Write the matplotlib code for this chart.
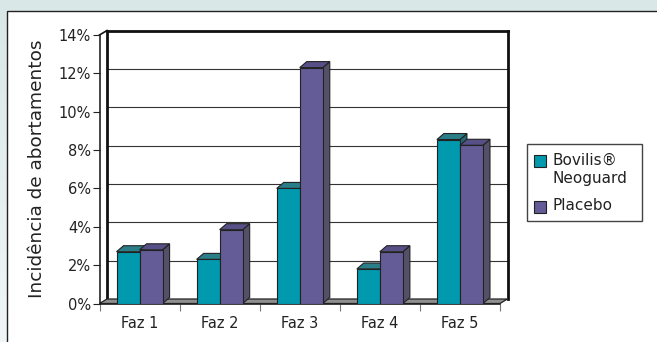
import numpy as np
import matplotlib
matplotlib.use("Agg")
import matplotlib.pyplot as plt
from matplotlib.patches import Polygon, Rectangle
from matplotlib.lines import Line2D
from matplotlib.transforms import IdentityTransform
from matplotlib.colors import LinearSegmentedColormap

categories = ["Faz 1", "Faz 2", "Faz 3", "Faz 4", "Faz 5"]
bovilis = [2.7, 2.3, 6.0, 1.8, 8.55]
placebo = [2.8, 3.85, 12.3, 2.7, 8.25]
series_names = ["Bovilis®\nNeoguard", "Placebo"]
yticks = [0, 2, 4, 6, 8, 10, 12, 14]
ytick_labels = ["0%", "2%", "4%", "6%", "8%", "10%", "12%", "14%"]

plt.rcParams['font.family'] = ['DejaVu Sans']
W, H = 657, 342
fig = plt.figure(figsize=(W / 100, H / 100), dpi=100)

# background with gradient
bg = fig.add_axes([0, 0, 1, 1])
bg.set_axis_off()
grad = np.linspace(0, 1, 256).reshape(-1, 1)
cm = LinearSegmentedColormap.from_list("bg", ["#d9e7e7", "#f0f6f6"])
bg.imshow(grad, aspect='auto', cmap=cm, extent=[0, 1, 0, 1], origin='upper')
bg.set_xlim(0, 1); bg.set_ylim(0, 1)
bg.add_patch(Rectangle((7 / W, -0.1), 1.2, (H - 11) / H + 0.1, transform=fig.transFigure,
                       facecolor='white', edgecolor='#222222', lw=1.0))

# main axes (front plane)
x0, x1 = 99.5, 500.0
y0, y1 = 303.5, 35.0
ax = fig.add_axes([x0 / W, (H - y0) / H, (x1 - x0) / W, (y0 - y1) / H])
ax.set_xlim(-0.5, len(categories) - 0.5)
ax.set_ylim(0, 14)
ax.patch.set_visible(False)
for s in ['top', 'right', 'bottom']:
    ax.spines[s].set_visible(False)
ax.spines['left'].set_color('#222222')
ax.spines['left'].set_linewidth(1.2)
ax.spines['left'].set_zorder(6)

ax.set_yticks(yticks)
ax.set_yticklabels(ytick_labels)
ax.tick_params(axis='y', length=5, width=0.8, color='#222222', labelsize=10.5,
               labelcolor='#222222', pad=1)
xs = np.arange(len(categories))
ax.set_xticks(xs)
ax.set_xticklabels(categories)
ax.set_xticks(np.arange(-0.5, len(categories)), minor=True)
ax.tick_params(axis='x', which='major', length=0, labelsize=10.5, labelcolor='#222222', pad=9)
ax.tick_params(axis='x', which='minor', length=5, width=0.8, color='#777777', pad=2)
ax.set_ylabel("Incidência de abortamentos", fontsize=13.3, color='#222222', labelpad=9)

fig.canvas.draw()
T = ax.transData
ID = IdentityTransform()
wall = np.array([7.5, 4.5])
depth = np.array([7.0, 6.0])
xa, xb = -0.5, len(categories) - 0.5


def P(x, y, off=(0, 0)):
    return T.transform((x, y)) + np.asarray(off)


def line(p, q, color, lw, z):
    ax.add_line(Line2D([p[0], q[0]], [p[1], q[1]], color=color, lw=lw, transform=ID,
                       clip_on=False, zorder=z, solid_capstyle='projecting'))


def poly(pts, fc, z, ec='#222222', lw=0.8):
    ax.add_patch(Polygon(np.array(pts), closed=True, facecolor=fc, edgecolor=ec, lw=lw,
                         transform=ID, clip_on=False, zorder=z, joinstyle='miter'))


# back wall gridlines
for v in yticks[1:-1]:
    line(P(xa, v, wall), P(xb, v, wall), '#333333', 0.8, 1)
line(P(xa, 14, wall), P(xb, 14, wall), '#111111', 2.0, 1.2)
line(P(xa, 0, wall), P(xa, 14, wall), '#111111', 2.0, 1.2)
line(P(xb, 0, wall), P(xb, 14, wall), '#111111', 2.0, 1.2)
line(P(xa, 14), P(xa, 14, wall), '#111111', 1.2, 1.2)

# floor
poly([P(xa, 0), P(xb, 0), P(xb, 0, wall), P(xa, 0, wall)], '#8f8f8f', 1.5, ec='#222222', lw=0.9)
line(P(xa, 0), P(xb, 0), '#222222', 1.2, 1.6)

bw = 0.2875
colors = {
    'teal': ('#0099ad', '#2b7d88', '#226a73'),
    'purple': ('#635c96', '#575087', '#545069'),
}


def draw_bars(lefts, vals, cols, z):
    front, top, side = cols
    ax.bar(lefts, vals, width=bw, align='edge', color=front, edgecolor='#222222',
           linewidth=0.8, zorder=z + 0.2)
    for l, v in zip(lefts, vals):
        r = l + bw
        poly([P(r, 0), P(r, 0, depth), P(r, v, depth), P(r, v)], side, z)
        poly([P(l, v), P(r, v), P(r, v, depth), P(l, v, depth)], top, z + 0.1)


draw_bars(xs - bw, bovilis, colors['teal'], 3)
draw_bars(xs, placebo, colors['purple'], 4)

# legend (manual, pixel layout; y from top)
def fx(px):
    return px / W


def fy(py):
    return 1 - py / H


fig.add_artist(Rectangle((fx(527), fy(221)), (642 - 527) / W, (221 - 144) / H,
                         transform=fig.transFigure, facecolor='white',
                         edgecolor='#444444', lw=1.0, zorder=10))
sq_tops = [155, 201]
for (name, top_px, col) in zip(series_names, sq_tops,
                               [colors['teal'][0], colors['purple'][0]]):
    fig.add_artist(Rectangle((fx(533.5), fy(top_px + 12)), 12 / W, 12 / H,
                             transform=fig.transFigure, facecolor=col,
                             edgecolor='#222222', lw=0.8, zorder=11))
    fig.text(fx(553), fy(top_px - 2.5), name, ha='left', va='top', fontsize=11,
             color='#222222', linespacing=1.3, zorder=12)

fig.savefig("out.png", dpi=100)
